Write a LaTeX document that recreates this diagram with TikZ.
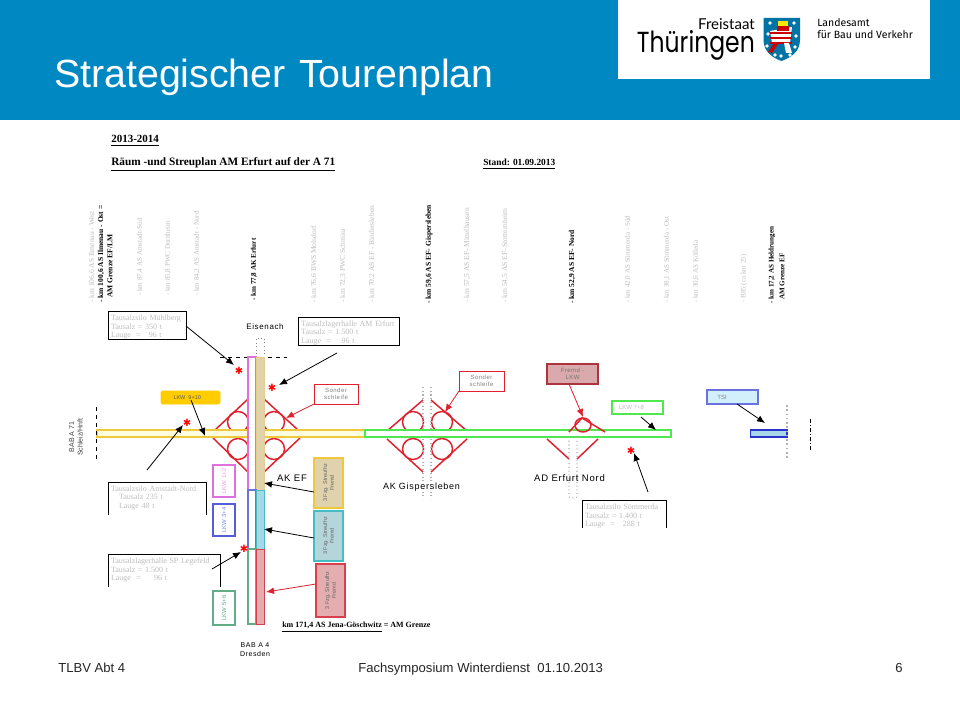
\documentclass[tikz,border=0pt]{standalone}
\usepackage{fontspec}
\setmainfont{Liberation Serif}
\newfontfamily\sansf{Liberation Sans}
\newfontfamily\spacedf[LetterSpace=8]{Liberation Sans}
\newfontfamily\logof{Poppins}
\newfontfamily\logob{Lato}
\newfontfamily\logoc{Fira Sans}
\newfontfamily\symf{DejaVu Sans}
\usetikzlibrary{arrows.meta}
\newcommand\fpx[1]{\fontsize{\fpeval{#1*0.75}}{\fpeval{#1*0.9}}\selectfont}
\newcommand\fsilo{\fontsize{6}{6.35}\selectfont}
\newcommand\tl{\rule{0pt}{7pt}}
\definecolor{hdr}{HTML}{0088C2}
\definecolor{palegray}{HTML}{BEBEBE}
\definecolor{roadred}{HTML}{E0202C}
\definecolor{roadyel}{HTML}{F0C93A}
\definecolor{roadgrn}{HTML}{4FE84F}
\definecolor{roadblu}{HTML}{2A35D0}
\definecolor{pinkl}{HTML}{E070DC}
\definecolor{tanf}{HTML}{E0D2AC}
\definecolor{tealf}{HTML}{B4D6DA}
\definecolor{tealb}{HTML}{46BCC4}
\definecolor{redf}{HTML}{E4AEB0}
\definecolor{redb}{HTML}{D8404E}
\definecolor{cyanf}{HTML}{A8D8E8}
\definecolor{greenb}{HTML}{62AC88}
\definecolor{lkwyel}{HTML}{FFCC00}
\newcommand\rbox[7]{%
  \pgfmathsetmacro\rcx{(#3+#5)/2}\pgfmathsetmacro\rcy{(#4+#6)/2}%
  \pgfmathsetmacro\rw{abs(#5-#3)*0.75}\pgfmathsetmacro\rh{abs(#6-#4)*0.75}%
  \node[inner sep=0pt,outer sep=0pt,minimum width=\rw pt,minimum height=\rh pt,#2] (#1) at (\rcx,\rcy) {#7};}
\tikzset{
  vgray/.style={rotate=90,anchor=west,inner sep=0pt,text=palegray,font=\fpx{7.5}},
  vgrays/.style={rotate=90,anchor=west,inner sep=0pt,text=palegray,font=\fpx{7.05}},
  vblack/.style={rotate=90,anchor=west,inner sep=0pt,text=black,font=\bfseries\fpx{7.5}},
  vblacks/.style={rotate=90,anchor=west,inner sep=0pt,text=black,font=\bfseries\fpx{7.1}},
  inter/.style={draw=roadred,line width=1.1pt},
  arr/.style={-{Latex[length=6pt,width=5pt]},black,line width=.6pt},
  rarr/.style={-{Latex[length=6pt,width=5pt]},roadred,line width=.6pt},
  silon/.style={text=palegray,font=\fsilo,align=left},
  frameline/.style={black,line width=.7pt},
  hint/.style={draw=roadred,line width=.7pt,fill=white,text=gray,font=\spacedf\fpx{6},align=center},
  lkwv/.style={line width=.8pt,fill=white,font=\sansf\fpx{5.5},rotate=0},
  star/.style={text=red,font=\symf\fpx{10},inner sep=0pt},
  plain/.style={font=\spacedf\fpx{8},text=black,inner sep=0pt},
  graydot/.style={draw=gray!60,dotted,line width=.8pt},
}
\begin{document}
\begin{tikzpicture}[x=0.75pt,y=-0.75pt]
\useasboundingbox (0,0) rectangle (960,720);
\fill[white] (0,0) rectangle (960,720);
% header
\fill[hdr] (0,0) rectangle (960,120);
\fill[white] (618,0) rectangle (930,79);
\node[anchor=base west,inner sep=0pt,text=white,font=\sansf\fpx{39.3}] (title) at (54,88) {Strategischer\hspace{.06em} Tourenplan};
% logo
\node[anchor=base east,inner sep=0pt,font=\logob\fpx{15}] (lg1) at (755,30) {Freistaat};
\node[anchor=base east,inner sep=0pt,font=\logof\fpx{29},xscale=.81] (lg2) at (755,53) {Thüringen};
\node[anchor=west,inner sep=0pt,font=\logoc\fontsize{7.9}{9}\selectfont,align=left] (lg3) at (817,29) {Landesamt\\für Bau und Verkehr};
\begin{scope}
\path[clip] (763.5,18) -- (800,18) -- (800,40) .. controls (800,52) and (790,58) .. (781.5,61) .. controls (773,58) and (763.5,52) .. (763.5,40) -- cycle;
\fill[hdr!85!black] (760,15) rectangle (803,63);
\fill[white] (770,31) -- (792,27) -- (790,43) -- (772,43) -- cycle;
\foreach \yy in {32,37,42} \fill[red!80!black] (770,\yy) rectangle (792,\yy+2.4);
\fill[red!80!black] (774,43) -- (779,43) -- (772,53) -- (768,52) -- cycle;
\fill[white] (784,43) -- (789,43) -- (792,53) -- (786,53) -- cycle;
\fill[red!80!black] (777,26) rectangle (789,31);
\fill[yellow!90!orange] (778,21) rectangle (788,26);
\foreach \px/\py in {770/23,794/23,768/34,796/36,767/46,795/47,775/55,790/55,781/56} \fill[white] (\px,\py) circle (1.9);
\end{scope}
% heading text
\node[anchor=base west,inner sep=0pt,font=\bfseries\fpx{11}] (h1) at (111,143) {\underline{2013-2014}};
\node[anchor=base west,inner sep=0pt,font=\bfseries\fpx{11.3}] (h2) at (111,166) {\underline{Räum -und Streuplan AM Erfurt auf der A 71}};
\node[anchor=base west,inner sep=0pt,font=\bfseries\fpx{9.4}] (h3) at (483,166) {\underline{Stand: 01.09.2013}};
% vertical km labels
\node[vgray] (v1) at (92,303) {- km 106,6 AS Ilmenau - West};
\node[vblack] (v2) at (101,303) {- km 100,6 AS Ilmenau - Ost =};
\node[vblack] (v3) at (110,298) {AM Grenze EF/LM};
\node[vgrays] (v4) at (140,296) {- km 87,4 AS Arnstadt-Süd};
\node[vgrays] (v5) at (168,296) {- km 85,8 PWC Dornheim};
\node[vgrays] (v6) at (197,296) {- km 84,2 AS Arnstadt - Nord};
\node[vblacks] (v7) at (254,301) {- km 77,8 AK Erfurt};
\node[vgray] (v8) at (314,303) {- km 76,6 BWS Molsdorf};
\node[vgray] (v9) at (343,303) {- km 72,3 PWC Schmira};
\node[vgray] (v10) at (372,303) {- km 70,2 AS EF - Bindersleben};
\node[vblack] (v11) at (429,304) {- km 59,6 AS EF- Gispersleben};
\node[vgray] (v12) at (467,303) {- km 57,5 AS EF- Mittelhausen};
\node[vgray] (v13) at (505,303) {- km 54,5 AS EF- Stotternheim};
\node[vblack] (v14) at (572,304) {- km 52,9 AS EF- Nord};
\node[vgrays] (v15) at (628,303) {- km 42,0 AS Sömmerda - Süd};
\node[vgrays] (v16) at (667,303) {- km 38,1 AS Sömmerda - Ost};
\node[vgrays] (v17) at (696,303) {- km 30,6 AS Kölleda};
\node[vgrays] (v18) at (744,303) {- B85 (ca km 25)};
\node[vblacks] (v19) at (772,304) {- km 17,2 AS Heldrungen};
\node[vblacks] (v20) at (782,300) {AM Grenze EF};
% interchanges: circles and ramps
\foreach \cx/\cy in {238/422,274/422,238/449,274/449,413/422,442/422,413/449,442/449} \draw[inter] (\cx,\cy) circle (10.5);
\draw[inter] (215,430) -- (248,399);
\draw[inter] (264,399) -- (298,430);
\draw[inter] (213,438) -- (248,472);
\draw[inter] (264,472) -- (300,438);
\draw[inter] (387,431) -- (423,400);
\draw[inter] (431,400) -- (467,431);
\draw[inter] (387,439) -- (423,472);
\draw[inter] (431,472) -- (467,439);
\draw[inter] (547,439) -- (569,459);
\draw[inter] (577,459) -- (598,439);
\draw[graydot] (423,387) -- (423,499);
\draw[graydot] (431,387) -- (431,499);
% road
\rbox{roady}{draw=roadyel,fill=yellow!12,line width=1pt}{97}{430}{365}{437}{}
\rbox{roadg}{draw=roadgrn,fill=white,line width=1.2pt}{365}{430}{671}{437}{}
\rbox{roadb}{draw=roadblu,fill=cyanf,line width=1.2pt}{750.5}{430}{787}{437}{}
\draw[inter] (583,425) ellipse (8 and 7);
\draw[inter] (569,432) -- (582,418) -- (605,432);
\draw[graydot,rounded corners=1.5pt] (569,437) -- (569,498) -- (577,498) -- (577,437);
\draw[graydot,line width=1.2pt] (787,405) -- (787,460);
\draw[black,dash pattern=on 3pt off 1.5pt on .8pt off 1.5pt,line width=.7pt] (810,419) -- (810,451);
\draw[black,dashed,line width=.6pt] (96,407) -- (96,461);
% A4
\draw[gray,dotted,line width=.7pt] (256,358) -- (256,338) -- (264,338) -- (264,358);
\draw[black,dashed,line width=.7pt] (220,357) -- (287,357);
\rbox{a1}{draw=pinkl,fill=white,line width=.8pt}{248}{357}{256}{490}{}
\rbox{a2}{draw=tanf!70!roadyel,fill=tanf,line width=.5pt}{256}{357}{264}{490}{}
\rbox{a3}{draw=roadblu!70,fill=white,line width=.8pt}{248}{490}{256}{549}{}
\rbox{a4}{draw=tealb,fill=cyanf,line width=.6pt}{256}{490}{264}{549}{}
\rbox{a5}{draw=greenb,fill=white,line width=.8pt}{248}{549}{256}{624}{}
\rbox{a6}{draw=redb,fill=redf,line width=.6pt}{256}{549}{264}{624}{}
\node[plain] (eis) at (265,327) {Eisenach};
\node[plain,font=\spacedf\fpx{7},align=center] (bab4) at (255,649.5) {BAB A 4\\Dresden};
\node[rotate=90,inner sep=0pt,font=\sansf\fpx{7},align=center,text=black!75] (bab71) at (76,437) {BAB A 71\\Schleiz/Hnft};
\node[plain,font=\spacedf\fpx{9.5}] (akef) at (292,478) {AK EF};
\node[plain,font=\spacedf\fpx{9}] (akg) at (421.5,487) {AK Gispersleben};
\node[plain,font=\spacedf\fpx{9.5}] (ade) at (569.5,478) {AD Erfurt  Nord};
\node[anchor=west,inner sep=0pt,font=\bfseries\fpx{8}] (kmg) at (282,627) {\underline{km 171,4 AS Jena-Göschwitz} = AM Grenze};
% silo boxes
\rbox{s1}{draw=black,line width=.7pt,silon,text width=54pt}{108}{313}{186}{338}{\tl Tausalzsilo Mühlberg\\Tausalz = 350 t\\Lauge \ = \ \ 96 t}
\rbox{s2}{draw=black,line width=.7pt,silon,text width=71pt}{298}{318}{399}{344}{\tl Tausalzlagerhalle AM Erfurt\\Tausalz = 1.500 t\\Lauge \ = \ \ \ 96 t}
\rbox{s3}{silon,text width=69pt}{108}{483}{206}{509}{\tl Tausalzsilo Arnstadt-Nord\\\ \ \ Tausalz 235 t\\\ \ \ Lauge 48 t}
\draw[frameline] ([yshift=-3.75pt]s3.south west) -- (s3.north west) -- (s3.north east) -- ([yshift=-3.75pt]s3.south east);
\rbox{s4}{silon,text width=79.5pt}{108}{556}{220}{581}{\tl Tausalzlagerhalle SP Legefeld\\Tausalz = 1.500 t\\Lauge \ = \ \ \ \ 96 t}
\draw[frameline] ([yshift=-3pt]s4.south west) -- (s4.north west) -- (s4.north east) -- ([yshift=-3pt]s4.south east);
\rbox{s5}{silon,text width=58.5pt}{582}{502}{666}{527}{\tl Tausalzsilo Sömmerda\\Tausalz = 1.400 t\\Lauge \ = \ \ 288 t}
\draw[frameline] (s5.south west) -- (s5.north west) -- (s5.north east) -- (s5.south east);
% small boxes
\rbox{l910}{fill=lkwyel,draw=lkwyel,rounded corners=1pt,text=black!65,font=\sansf\fpx{5.5}}{161}{391}{220}{404}{LKW \ 9+10\hspace{1.2em}\mbox{}}
\rbox{h1b}{hint}{314}{384}{358}{404}{Sonder\\schleife}
\rbox{h2b}{hint}{459}{371}{504}{391}{Sonder\\schleife}
\rbox{fl}{draw=redb!80!black,fill=redf!90!gray,line width=.9pt,text=black!55,font=\spacedf\fpx{6},align=center}{547}{364}{598}{384}{Fremd -\\LKW}
\rbox{l78}{draw=roadgrn,fill=white,line width=.8pt,text=palegray,font=\sansf\fpx{6}}{612}{401}{663}{414}{LKW 7+8\hspace{2em}\mbox{}}
\rbox{tsi}{draw=roadblu!70,fill=cyan!18,line width=.9pt,text=gray,font=\sansf\fpx{6}}{707}{390}{758}{404}{TSI\hspace{3.5em}\mbox{}}
\rbox{l12}{draw=pinkl,lkwv,text=pinkl!70}{213}{465}{235}{497}{}
\node[rotate=90,font=\sansf\fpx{6},text=pinkl!70,inner sep=0pt] (l12t) at (l12) {LKW 1+2};
\rbox{l34}{draw=roadblu!80,lkwv}{213}{504}{235}{536}{}
\node[rotate=90,font=\sansf\fpx{6},text=roadblu!60,inner sep=0pt] (l34t) at (l34) {LKW 3+4};
\rbox{l56}{draw=greenb,lkwv}{213}{591}{235}{625}{}
\node[rotate=90,font=\sansf\fpx{6},text=greenb,inner sep=0pt] (l56t) at (l56) {LKW 5+6};
\rbox{f1}{draw=roadyel,fill=tanf,line width=1pt}{314}{458}{343}{508}{}
\node[rotate=90,font=\sansf\fpx{5.5},text=black!60,align=center,inner sep=0pt] (f1t) at (f1) {3 Fzg. Streufhz\\Fremd};
\rbox{f2}{draw=tealb,fill=tealf,line width=1pt}{314}{511}{343}{561}{}
\node[rotate=90,font=\sansf\fpx{5.5},text=black!60,align=center,inner sep=0pt] (f2t) at (f2) {3 Fzg. Streufhz\\Fremd};
\rbox{f3}{draw=redb,fill=redf,line width=1pt}{316}{564}{345}{617}{}
\node[rotate=90,font=\sansf\fpx{5.5},text=black!60,align=center,inner sep=0pt] (f3t) at (f3) {3 Fzg. Streufhz\\Fremd};
% stars
\node[star] (st1) at (239,371) {✱};
\node[star] (st2) at (272,388) {✱};
\node[star] (st3) at (187,423) {✱};
\node[star] (st4) at (631,451) {✱};
\node[star] (st5) at (244,549) {✱};
% connector ends
\coordinate (e1) at (234,365);
\coordinate (b2) at (337,353);
\coordinate (e2) at (279,385);
\coordinate (b3) at (147,470);
\coordinate (e3) at (183,425);
\coordinate (b4) at (212,569);
\coordinate (e4) at (241,552);
\coordinate (b5) at (648,492);
\coordinate (e5) at (634,453);
\coordinate (b9) at (191,400);
\coordinate (e9) at (205,436);
\coordinate (b78) at (641,417);
\coordinate (e78) at (656,430);
\coordinate (bt) at (737,404);
\coordinate (et) at (765,423);
\coordinate (eh1) at (286,418);
\coordinate (eh2) at (445,412);
\coordinate (bfl) at (569,384);
\coordinate (efl) at (583,417);
\coordinate (ef1) at (264,483);
\coordinate (ef2) at (264,529);
\coordinate (ef3) at (266,592);
\coordinate (bf1) at (314,492);
\coordinate (bf2) at (314,538);
\coordinate (bf3) at (316,584);
\coordinate (bs1) at (186,326);
% connectors
\draw[arr] (bs1) -- (e1);
\draw[arr] (b2) -- (e2);
\draw[arr] (b3) -- (e3);
\draw[arr] (b4) -- (e4);
\draw[arr] (b5) -- (e5);
\draw[arr] (b9) -- (e9);
\draw[arr] (b78) -- (e78);
\draw[arr] (bt) -- (et);
\draw[rarr] (h1b.south west) -- (eh1);
\draw[rarr] (h2b.south west) -- (eh2);
\draw[rarr] (bfl) -- (efl);
\draw[arr] (bf1) -- (ef1);
\draw[arr] (bf2) -- (ef2);
\draw[rarr] (bf3) -- (ef3);
% footer
\node[anchor=base west,inner sep=0pt,font=\sansf\fpx{13.1},text=black!85] (ft1) at (58,672.5) {TLBV Abt 4};
\node[anchor=base west,inner sep=0pt,font=\sansf\fpx{13.1},text=black!85] (ft2) at (358,672.5) {Fachsymposium Winterdienst\ \ 01.10.2013};
\node[anchor=base east,inner sep=0pt,font=\sansf\fpx{13.1},text=black!85] (ft3) at (903,672.5) {6};
\end{tikzpicture}
\end{document}
